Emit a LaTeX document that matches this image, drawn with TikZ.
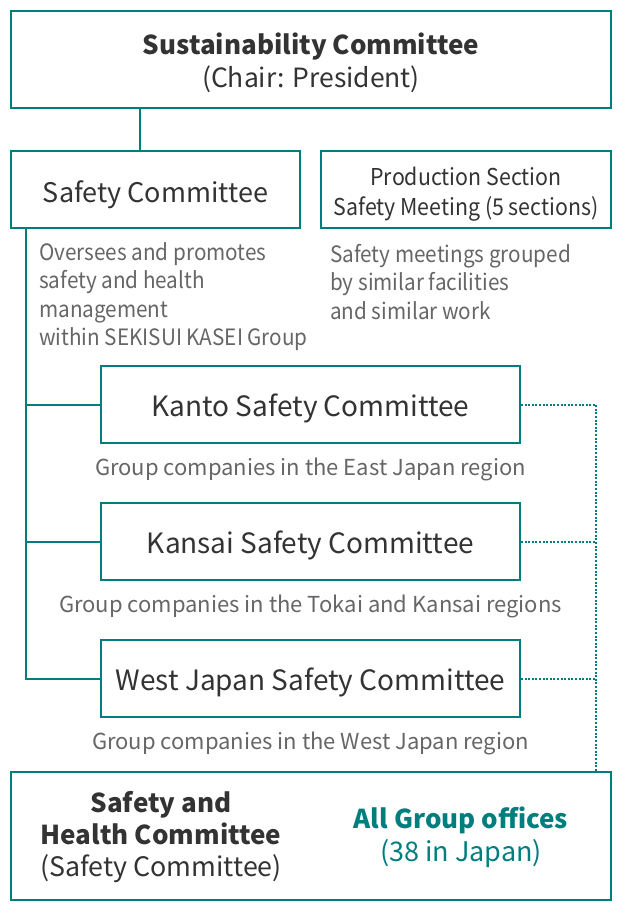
\documentclass[tikz,border=0pt]{standalone}
\usepackage{fontspec}
\setmainfont{Noto Sans CJK JP}
\newfontfamily\condfont{Noto Sans CJK JP}[FakeStretch=0.92]
\definecolor{teal1}{RGB}{0,126,126}
\definecolor{dark1}{RGB}{51,51,51}
\definecolor{gray1}{RGB}{102,102,102}
\tikzset{
  box/.style={draw=teal1, line width=2pt, inner sep=0pt},
  boxtext/.style={inner sep=0pt, align=center, text=dark1, font=\fontsize{27}{33}\selectfont},
  subtext/.style={text=gray1, inner sep=0pt, align=left, font=\condfont\fontsize{22.5}{28.5}\selectfont},
  regtext/.style={text=gray1, inner sep=0pt, align=center, font=\fontsize{22}{26}\selectfont},
  conn/.style={draw=teal1, line width=2pt},
  dotconn/.style={draw=teal1, line width=2pt, dash pattern=on 2pt off 1.6pt}
}
\begin{document}
\begin{tikzpicture}[x=1pt,y=-1pt]
\useasboundingbox (0,0) rectangle (622,912);
% boxes
\node[box, minimum width=600pt, minimum height=97pt] (top) at (311,59.5) {};
\node[box, minimum width=289pt, minimum height=77pt] (sc) at (155.5,189.5) {};
\node[box, minimum width=290pt, minimum height=77pt] (ps) at (466,189.5) {};
\node[box, minimum width=419pt, minimum height=77pt] (kanto) at (310.5,404.5) {};
\node[box, minimum width=419pt, minimum height=77pt] (kansai) at (310.5,541.5) {};
\node[box, minimum width=419pt, minimum height=77pt] (west) at (310.5,678.5) {};
\node[box, minimum width=600pt, minimum height=128pt] (bottom) at (311,836) {};
% texts
\node[boxtext, font=\fontsize{26.5}{33}\selectfont] (topt) at (311,62.5)
  {{\bfseries\fontsize{26}{33}\selectfont Sustainability Committee}\\(Chair: President)};
\node[boxtext] (sct) at (155.5,195) {Safety Committee};
\node[boxtext, font=\condfont\fontsize{23.2}{30}\selectfont] (pst) at (466,194)
  {Production Section\\Safety Meeting (5 sections)};
\node[subtext, anchor=west] (sctext) at (39,296.5)
  {Oversees and promotes\\safety and health\\management\\within SEKISUI KASEI Group};
\node[subtext, anchor=west] (pstext) at (330,282)
  {Safety meetings grouped\\by similar facilities\\and similar work};
\node[boxtext, font=\fontsize{28}{33}\selectfont] (kantot) at (310.5,408) {Kanto Safety Committee};
\node[regtext] (kantor) at (310.5,469) {Group companies in the East Japan region};
\node[boxtext, font=\fontsize{28}{33}\selectfont] (kansait) at (310.5,545) {Kansai Safety Committee};
\node[regtext] (kansair) at (310.5,606) {Group companies in the Tokai and Kansai regions};
\node[boxtext, font=\fontsize{28}{33}\selectfont] (westt) at (310.5,682) {West Japan Safety Committee};
\node[regtext] (westr) at (310.5,743) {Group companies in the West Japan region};
\node[boxtext, font=\fontsize{26.8}{32}\selectfont] (shc) at (161,837)
  {{\bfseries\fontsize{26}{32}\selectfont Safety and}\\{\bfseries\fontsize{26}{32}\selectfont Health Committee}\\(Safety Committee)};
\node[boxtext, text=teal1, font=\fontsize{27}{33}\selectfont] (ago) at (461,837.5)
  {{\bfseries\fontsize{26}{33}\selectfont All Group offices}\\(38 in Japan)};
% connectors
\coordinate (c1) at (140,108);
\draw[conn] (c1) -- (c1 |- sc.north);
\coordinate (vtop) at (26,228);
\draw[conn] (vtop) |- (west.west);
\draw[conn] (vtop |- kanto.west) -- (kanto.west);
\draw[conn] (vtop |- kansai.west) -- (kansai.west);
\coordinate (dv) at (596,0);
\draw[dotconn] (kanto.east) -| (dv |- bottom.north);
\draw[dotconn] (kansai.east) -- (kansai.east -| dv);
\draw[dotconn] (west.east) -- (west.east -| dv);
\end{tikzpicture}
\end{document}
